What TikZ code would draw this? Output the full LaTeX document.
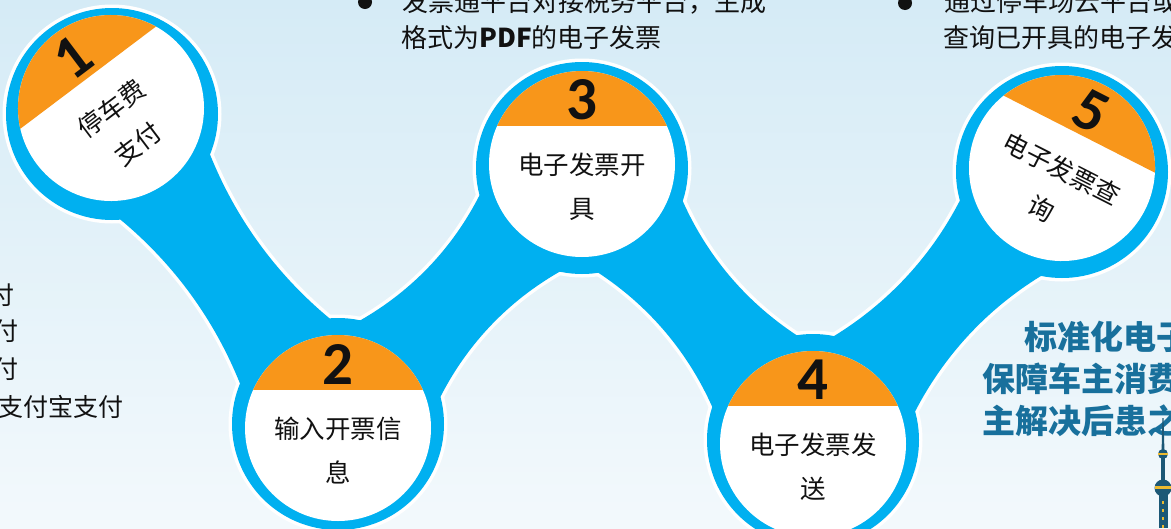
\documentclass[tikz,border=0pt]{standalone}
\usepackage{fontspec}
\setmainfont{Noto Sans CJK SC}
\newfontfamily\cjk{Noto Sans CJK SC}
\newfontfamily\digitfont{Carlito}
\usetikzlibrary{calc}

\definecolor{bgtop}{RGB}{213,235,246}
\definecolor{bgbot}{RGB}{243,249,252}
\definecolor{ringblue}{RGB}{0,176,240}
\definecolor{capor}{RGB}{248,150,26}
\definecolor{headteal}{RGB}{24,112,156}
\definecolor{towerteal}{RGB}{28,88,118}
\definecolor{toweryel}{RGB}{236,186,48}
\definecolor{ink}{RGB}{17,17,17}

\tikzset{
  numlbl/.style={font=\digitfont\bfseries\fontsize{61}{61}\selectfont, text=ink, inner sep=0pt},
  steplbl/.style={font=\cjk\fontsize{25.5}{44}\selectfont, text=ink, align=center, inner sep=0pt},
  bodytxt/.style={font=\cjk\fontsize{26}{30}\selectfont, text=ink, inner sep=0pt, anchor=west},
  sidetxt/.style={font=\cjk\fontsize{25}{30}\selectfont, text=ink, inner sep=0pt, anchor=east},
  headtxt/.style={font=\cjk\bfseries\fontsize{33}{36}\selectfont, text=headteal, inner sep=0pt, anchor=west},
  bulletdot/.style={circle, fill=ink, inner sep=0pt, minimum size=14pt},
  rimline/.style={white, line width=7pt, line join=round},
}

% end points and inward-bent control points of the band joining disc #1 to disc #2
\newcommand\bandpoints[2]{%
  \coordinate (ba#1) at ($(o#1)!106pt!31.5:(o#2)$);
  \coordinate (bb#1) at ($(o#2)!106pt!-31.5:(o#1)$);
  \coordinate (bc#1) at ($(o#2)!106pt!31.5:(o#1)$);
  \coordinate (bd#1) at ($(o#1)!106pt!-31.5:(o#2)$);
  \coordinate (ma#1) at ($(ba#1)!0.33!(bb#1)$);
  \coordinate (ka#1) at ($(ma#1)!17pt!-90:(bb#1)$);
  \coordinate (mb#1) at ($(ba#1)!0.67!(bb#1)$);
  \coordinate (kb#1) at ($(mb#1)!17pt!90:(ba#1)$);
  \coordinate (mc#1) at ($(bc#1)!0.33!(bd#1)$);
  \coordinate (kc#1) at ($(mc#1)!17pt!-90:(bd#1)$);
  \coordinate (md#1) at ($(bc#1)!0.67!(bd#1)$);
  \coordinate (kd#1) at ($(md#1)!17pt!90:(bc#1)$);
}
\newcommand\bandpath[2]{(ba#1) .. controls (ka#1) and (kb#1) .. (bb#1) -- (o#2) -- (bc#1) .. controls (kc#1) and (kd#1) .. (bd#1) -- (o#1) -- cycle}

% white disc with orange cap, step number and two-line caption
\newcommand\stepdisc[6]{%
  \begin{scope}[shift={(#1,#2)}, rotate=#3]
    \fill[white] (0,0) circle[radius=93];
    \begin{scope}
      \clip (0,0) circle[radius=93];
      \fill[capor] (-110,-110) rectangle (110,-38);
    \end{scope}
    \node[numlbl, transform shape] (num#4) at (0,-64) {#4};
    \node[steplbl, transform shape] (lbl#4) at (0,23) {#5\\#6};
  \end{scope}}

\begin{document}
\begin{tikzpicture}[x=1pt,y=-1pt]
\useasboundingbox (0,0) rectangle (1171,528);
\clip (0,0) rectangle (1171,528);
\shade[top color=bgtop, bottom color=bgbot] (0,0) rectangle (1171,528);

% centres of the blue rings
\coordinate (o1) at (112,114);
\coordinate (o2) at (338,424);
\coordinate (o3) at (582,168);
\coordinate (o4) at (813,440);
\coordinate (o5) at (1062,172);
\foreach \i/\j in {1/2,2/3,3/4,4/5} {\bandpoints{\i}{\j}}

% white rim around the whole chain, then the blue body
\foreach \i/\j in {1/2,2/3,3/4,4/5} {\filldraw[rimline] \bandpath{\i}{\j};}
\foreach \k in {1,...,5} {\filldraw[rimline] (o\k) circle[radius=106];}
\foreach \i/\j in {1/2,2/3,3/4,4/5} {\fill[ringblue] \bandpath{\i}{\j};}
\foreach \k in {1,...,5} {\fill[ringblue] (o\k) circle[radius=106];}

% the five steps
\stepdisc{111}{108}{37}{1}{停车费}{支付}
\stepdisc{338}{428}{0}{2}{输入开票信}{息}
\stepdisc{582}{164}{0}{3}{电子发票开}{具}
\stepdisc{813}{444}{0}{4}{电子发票发}{送}
\stepdisc{1062}{168}{-27}{5}{电子发票查}{询}

% bullet notes along the top
\node[bulletdot] (dotA) at (365,2) {};
\node[bodytxt] (noteA1) at (402,2) {发票通平台对接税务平台，生成};
\node[bodytxt] (noteA2) at (401,38) {格式为{\bfseries PDF}的电子发票};
\node[bulletdot] (dotB) at (905,3) {};
\node[bodytxt] (noteB1) at (944,2) {通过停车场云平台或};
\node[bodytxt] (noteB2) at (943,38) {查询已开具的电子发};

% payment list on the left
\node[sidetxt] (payA) at (15,295) {付};
\node[sidetxt] (payB) at (19,331) {付};
\node[sidetxt] (payC) at (19,369) {付};
\node[sidetxt] (payD) at (124,407) {支付宝支付};

% headline at lower right
\node[headtxt] (headA) at (1024,337) {标准化电子};
\node[headtxt] (headB) at (982,379) {保障车主消费};
\node[headtxt] (headC) at (982,421) {主解决后患之};

% TV tower
\fill[towerteal] (1162.4,418) -- (1163.6,418) -- (1164.4,450) -- (1161.6,450) -- cycle;
\fill[towerteal] (1163,454) circle[radius=5];
\fill[toweryel] (1158.2,452.6) rectangle (1167.8,455);
\fill[towerteal] (1161,457) rectangle (1165,482);
\fill[towerteal] (1163,488) circle[radius=8.5];
\fill[toweryel] (1154.8,486.2) rectangle (1171.2,489.2);
\fill[towerteal] (1158.5,494) rectangle (1167.5,528);
\foreach \yy in {501,509,517,525} {\fill[toweryel] (1161.8,\yy) rectangle (1164.2,\yy+3);}
\end{tikzpicture}
\end{document}
